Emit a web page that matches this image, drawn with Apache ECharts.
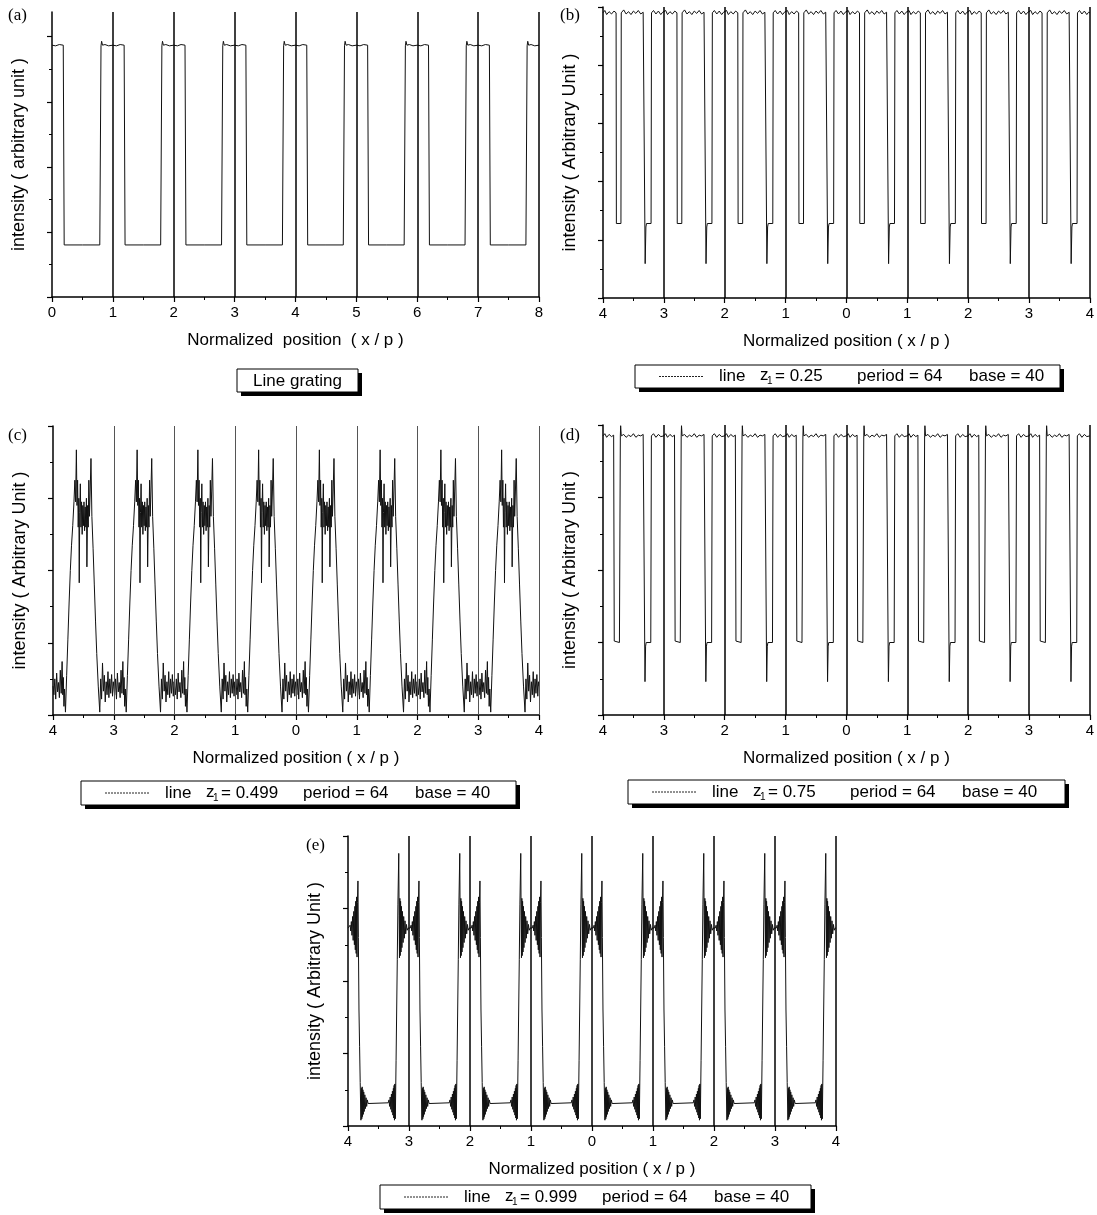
<!DOCTYPE html>
<html><head><meta charset="utf-8">
<script src="https://cdn.jsdelivr.net/npm/echarts@6/dist/echarts.min.js"></script>
<style>html,body{margin:0;padding:0;background:#fff}#c{width:1097px;height:1215px}</style>
</head><body><div id="c"></div>
<script>
// ---------- data ----------
const gratingStarts = [0, 1, 2, 3, 4, 5, 6, 7];
const periodStarts = [-4, -3, -2, -1, 0, 1, 2, 3];
const gratingLines = [1, 2, 3, 4, 5, 6, 7, 8];
const periodLines = [-3, -2, -1, 0, 1, 2, 3, 4];

// (a) line grating, one period (x relative to the integer)
const aRelX = [0, 0.06, 0.12, 0.185, 0.2, 0.5, 0.785, 0.805, 0.815, 0.83, 0.87, 0.93];
const aY    = [3.87, 3.86, 3.88, 3.87, 0.80, 0.80, 0.80, 3.86, 3.93, 3.87, 3.88, 3.86];

// (b) z1 = 0.25
const bRelX = [0, 0.03, 0.06, 0.1, 0.14, 0.18, 0.215, 0.22, 0.295, 0.3, 0.34, 0.38, 0.42, 0.46, 0.5, 0.54, 0.58, 0.62, 0.66, 0.69, 0.693, 0.705, 0.715, 0.79, 0.797, 0.83, 0.87, 0.91, 0.95, 0.98];
const bY    = [4.90, 4.94, 4.87, 4.92, 4.88, 4.93, 4.90, 1.28, 1.28, 4.90, 4.95, 4.88, 4.92, 4.87, 4.93, 4.89, 4.94, 4.88, 4.91, 4.90, 0.59, 1.22, 1.28, 1.28, 4.90, 4.94, 4.88, 4.93, 4.87, 4.91];

// (c) z1 = 0.499
const cRelX = [0, 0.015, 0.03, 0.045, 0.06, 0.075, 0.09, 0.105, 0.12, 0.135, 0.15, 0.16, 0.17, 0.18, 0.19, 0.205,
  0.225, 0.245, 0.265, 0.285, 0.305, 0.325, 0.345, 0.36, 0.372, 0.385, 0.395, 0.405, 0.415, 0.425, 0.432, 0.44, 0.45,
  0.46, 0.47, 0.48, 0.49, 0.5, 0.51, 0.52, 0.53, 0.54, 0.55, 0.558, 0.57, 0.58, 0.59, 0.6, 0.612, 0.625, 0.64,
  0.66, 0.68, 0.7, 0.72, 0.745, 0.77,
  0.785, 0.8, 0.815, 0.83, 0.845, 0.86, 0.875, 0.89, 0.905, 0.92, 0.935, 0.95, 0.965, 0.98, 0.992];
const cY    = [0.40, 0.28, 0.50, 0.22, 0.58, 0.32, 0.45, 0.24, 0.62, 0.30, 0.74, 0.28, 0.52, 0.12, 0.36, 0.04,
  0.55, 1.05, 1.55, 2.00, 2.35, 2.62, 2.95, 3.25, 2.95, 3.67, 2.90, 3.25, 2.60, 3.00, 1.83, 2.80, 3.20,
  2.60, 2.95, 2.50, 2.90, 2.62, 2.95, 2.55, 2.88, 2.60, 3.00, 2.05, 2.90, 2.60, 3.25, 2.75, 3.10, 3.55, 2.75,
  2.30, 1.80, 1.30, 0.85, 0.40, 0.04,
  0.50, 0.22, 0.72, 0.33, 0.55, 0.18, 0.46, 0.28, 0.60, 0.24, 0.50, 0.30, 0.56, 0.26, 0.46];

// (d) z1 = 0.75
const dRelX = [0, 0.03, 0.06, 0.1, 0.14, 0.175, 0.185, 0.2, 0.27, 0.285, 0.29, 0.3, 0.34, 0.38, 0.42, 0.46, 0.5, 0.54, 0.58, 0.62, 0.66, 0.688, 0.69, 0.7, 0.71, 0.785, 0.795, 0.83, 0.87, 0.91, 0.95, 0.98];
const dY    = [3.85, 3.88, 3.83, 3.87, 3.84, 3.86, 1.02, 1.00, 1.00, 3.85, 3.99, 3.85, 3.87, 3.83, 3.86, 3.84, 3.88, 3.83, 3.86, 3.85, 3.87, 3.85, 0.46, 0.95, 1.00, 1.00, 3.85, 3.88, 3.83, 3.87, 3.84, 3.86];

// (e) z1 = 0.999
const eRelX = [0, 0.02, 0.035, 0.045, 0.055, 0.065, 0.075, 0.085, 0.095, 0.105, 0.113, 0.12, 0.127, 0.134, 0.141, 0.148, 0.155, 0.163,
  0.17, 0.18, 0.19, 0.2, 0.212,
  0.22, 0.226, 0.232, 0.238, 0.244, 0.25, 0.258, 0.266, 0.276, 0.286, 0.296, 0.306, 0.316, 0.33, 0.36,
  0.66, 0.672, 0.682, 0.692, 0.702, 0.712, 0.72, 0.728, 0.736, 0.744, 0.75, 0.756, 0.762, 0.768, 0.776,
  0.788, 0.798, 0.808, 0.818, 0.832,
  0.838, 0.844, 0.85, 0.856, 0.862, 0.869, 0.876, 0.884, 0.893, 0.903, 0.913, 0.923, 0.934, 0.946, 0.958, 0.97, 0.985];
const eY    = [2.73, 2.73, 2.77, 2.69, 2.82, 2.63, 2.89, 2.56, 2.96, 2.50, 3.03, 2.43, 3.10, 2.38, 3.16, 2.33, 3.08, 3.38,
  2.60, 1.60, 1.10, 0.60, 0.08,
  0.52, 0.10, 0.54, 0.13, 0.50, 0.16, 0.47, 0.20, 0.43, 0.24, 0.39, 0.27, 0.36, 0.31, 0.32,
  0.32, 0.36, 0.27, 0.40, 0.23, 0.44, 0.19, 0.48, 0.15, 0.52, 0.11, 0.56, 0.08, 0.58, 0.10,
  0.90, 1.60, 2.30, 3.05, 3.76,
  2.90, 2.32, 3.14, 2.35, 3.10, 2.40, 3.03, 2.46, 2.96, 2.53, 2.89, 2.59, 2.83, 2.65, 2.78, 2.70, 2.73];

const legendTexts = ['0.25', '0.499', '0.75', '0.999'];
const yNames = ['intensity ( arbitrary unit )', 'intensity ( Arbitrary Unit )', 'intensity ( Arbitrary Unit )', 'intensity ( Arbitrary Unit )', 'intensity ( Arbitrary Unit )'];
const xNames = ['Normalized  position  ( x / p )', 'Normalized position ( x / p )', 'Normalized position ( x / p )', 'Normalized position ( x / p )', 'Normalized position ( x / p )'];
const panelLetters = ['(a)', '(b)', '(c)', '(d)', '(e)'];

// ---------- build ----------
function tile(starts, rx, ry, endX) {
  const pts = [];
  starts.forEach(s => rx.forEach((r, i) => pts.push([Math.round((s + r) * 10000) / 10000, ry[i]])));
  pts.push([endX, ry[0]]);
  return pts;
}
const FONT = '"Liberation Sans", Arial, sans-serif';
const SERIF = '"Liberation Serif", "Times New Roman", serif';

const grids = [
  {left: 52, top: 12, width: 487, height: 285},
  {left: 603, top: 7, width: 489, height: 291},
  {left: 53, top: 426, width: 486, height: 289},
  {left: 603, top: 425, width: 489, height: 290},
  {left: 348, top: 836, width: 488, height: 290}
];
const yMax = [4.38, 5, 4, 4, 4];
const xRange = [[0, 8], [-4, 4], [-4, 4], [-4, 4], [-4, 4]];

const xAxes = grids.map((g, i) => ({
  type: 'value', gridIndex: i, min: xRange[i][0], max: xRange[i][1], interval: 1,
  axisLine: {onZero: false, lineStyle: {color: '#000', width: 1.5}},
  axisTick: {show: true, length: 5, lineStyle: {color: '#000', width: 1.2}},
  minorTick: {show: true, splitNumber: 2, length: 3, lineStyle: {color: '#000', width: 1}},
  splitLine: {show: false}, minorSplitLine: {show: false},
  axisLabel: {color: '#000', fontSize: 15, fontFamily: FONT, margin: 8,
    formatter: v => String(Math.abs(v))},
  name: xNames[i], nameLocation: 'middle', nameGap: 35,
  nameTextStyle: {color: '#000', fontSize: 17, fontFamily: FONT}
}));
const yAxes = grids.map((g, i) => ({
  type: 'value', gridIndex: i, min: 0, max: yMax[i], interval: 1,
  axisLine: {onZero: false, lineStyle: {color: '#000', width: 1.5}},
  axisTick: i === 0 ? {show: true, length: 5, customValues: [0, 1, 2, 3, 4], lineStyle: {color: '#000', width: 1.2}}
                    : {show: true, length: 5, lineStyle: {color: '#000', width: 1.2}},
  minorTick: {show: i !== 0, splitNumber: 2, length: 3, lineStyle: {color: '#000', width: 1}},
  splitLine: {show: false}, minorSplitLine: {show: false},
  axisLabel: {show: false},
  name: yNames[i], nameLocation: 'middle', nameGap: 24,
  nameTextStyle: {color: '#000', fontSize: 18, fontFamily: FONT}
}));
// minor ticks for panel (a)
yAxes.push({
  type: 'value', gridIndex: 0, min: 0, max: yMax[0], interval: 1, position: 'left',
  axisLine: {show: false}, axisLabel: {show: false}, splitLine: {show: false},
  axisTick: {show: true, length: 3, customValues: [0.5, 1.5, 2.5, 3.5], lineStyle: {color: '#000', width: 1}}
});

const panelData = [
  tile(gratingStarts, aRelX, aY, 8),
  tile(periodStarts, bRelX, bY, 4),
  tile(periodStarts, cRelX, cY, 4),
  tile(periodStarts, dRelX, dY, 4),
  tile(periodStarts, eRelX, eY, 4)
];
const markXs = [gratingLines, periodLines, periodLines, periodLines, periodLines];

const series = panelData.map((data, i) => ({
  type: 'line', xAxisIndex: i, yAxisIndex: i, data,
  showSymbol: false, symbol: 'none', silent: true, animation: false,
  lineStyle: {color: '#111', width: 1},
  emphasis: {disabled: true},
  markLine: {
    silent: true, animation: false, symbol: ['none', 'none'], label: {show: false},
    emphasis: {disabled: true},
    lineStyle: {color: i === 2 ? '#555' : '#000', width: i === 2 ? 1 : 1.5, type: 'solid'},
    data: markXs[i].map(v => ({xAxis: v}))
  }
}));

// ---------- legend boxes and panel letters ----------
const graphics = [];
function box(x, y, w, h) {
  graphics.push({type: 'rect', silent: true, shape: {x: x + 4, y: y + 4, width: w, height: h}, style: {fill: '#000'}});
  graphics.push({type: 'rect', silent: true, shape: {x, y, width: w, height: h}, style: {fill: '#fff', stroke: '#000', lineWidth: 1}});
}
function txt(x, y, t, size, font, align) {
  graphics.push({type: 'text', silent: true, x, y,
    style: {text: t, font: size + 'px ' + (font || FONT), fill: '#000', align: align || 'left', verticalAlign: 'middle'}});
}
// (a)
box(237, 369, 121, 23);
txt(297.5, 381, 'Line grating', 17, FONT, 'center');
const boxes = [
  {x: 635, y: 365, w: 425, h: 23},
  {x: 81, y: 781, w: 435, h: 24},
  {x: 628, y: 780, w: 437, h: 24},
  {x: 380, y: 1185, w: 431, h: 24}
];
boxes.forEach((b, k) => {
  box(b.x, b.y, b.w, b.h);
  const cy = b.y + b.h / 2;
  graphics.push({type: 'line', silent: true, shape: {x1: b.x + 24, y1: cy, x2: b.x + 68, y2: cy},
    style: {stroke: '#222', lineWidth: 1, lineDash: [2, 1]}});
  txt(b.x + 84, cy, 'line', 17);
  txt(b.x + 125, cy - 1, 'z', 17);
  txt(b.x + 132, cy + 5, '1', 10);
  txt(b.x + 140, cy, '= ' + legendTexts[k], 17);
  txt(b.x + 222, cy, 'period = 64', 17);
  txt(b.x + 334, cy, 'base = 40', 17);
});
const letterPos = [[8, 16], [560, 16], [8, 436], [560, 436], [306, 846]];
letterPos.forEach((p, i) => txt(p[0], p[1], panelLetters[i], 17, SERIF));

const chart = echarts.init(document.getElementById('c'), null, {renderer: 'canvas'});
chart.setOption({
  animation: false,
  backgroundColor: '#fff',
  grid: grids,
  xAxis: xAxes,
  yAxis: yAxes,
  series,
  graphic: graphics
});
</script>
</body></html>
